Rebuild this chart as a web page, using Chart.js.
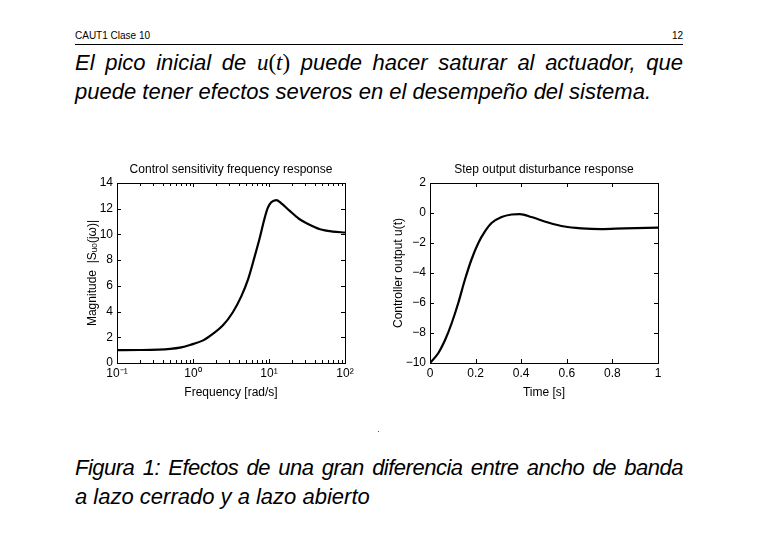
<!DOCTYPE html>
<html>
<head>
<meta charset="utf-8">
<script src="https://cdn.jsdelivr.net/npm/chart.js@4.4.1/dist/chart.umd.min.js"></script>
<style>
    body { margin: 0; background: #fff; width: 758px; height: 536px; position: relative; overflow: hidden; font-family: "Liberation Sans", Arial, sans-serif; color: #000; }
    .cab { position: absolute; top: 30px; left: 75px; width: 608px; font-size: 10px; border-bottom: 1px solid #000; height: 14px; }
    .cab span.der { position: absolute; right: 0; top: 0; }
    .linea { position: absolute; left: 75px; width: 608px; font-style: italic; font-size: 22px; line-height: 29px; white-space: nowrap; }
    .just { text-align: justify; text-align-last: justify; }
    .mat { font-family: "Liberation Serif", "Times New Roman", serif; font-style: normal; font-size: 23px; }
    .mat i { font-style: italic; }
    canvas { position: absolute; }
</style>
</head>
<body>
<div class="cab">CAUT1 Clase 10<span class="der">12</span></div>
<div class="linea just" style="top:48px">El pico inicial de <span class="mat"><i>u</i>(<i>t</i>)</span> puede hacer saturar al actuador, que</div>
<div class="linea" style="top:77px">puede tener efectos severos en el desempeño del sistema.</div>
<canvas id="graficoFrecuencia" style="left:85px;top:160px;width:285px;height:240px" width="285" height="240"></canvas>
<canvas id="graficoEscalon" style="left:391px;top:160px;width:279px;height:240px" width="279" height="240"></canvas>
<div style="position:absolute;left:378px;top:431px;width:1px;height:1px;background:#555"></div>
<div class="linea just" style="top:453px;letter-spacing:-0.5px">Figura 1: Efectos de una gran diferencia entre ancho de banda</div>
<div class="linea" style="top:482px">a lazo cerrado y a lazo abierto</div>
<script>
const frecuencias = [0.1, 0.2, 0.5, 0.7, 0.91, 1.36, 1.84, 2.48, 3.36, 4.33, 5.3, 6.47, 7.53, 8.75, 9.6, 10.7, 12.5, 14.4, 18.6, 25, 31, 47, 69, 100];
const magnitud = [1.0, 1.01, 1.1, 1.22, 1.4, 1.76, 2.28, 2.93, 3.97, 5.2, 6.5, 8.27, 9.7, 11.26, 12.05, 12.5, 12.67, 12.44, 11.85, 11.2, 10.88, 10.4, 10.22, 10.15];
const ticksFrecuencia = [0.1, 1, 10, 100];
const etiquetasFrecuencia = ["10\u207B\u00B9", "10\u2070", "10\u00B9", "10\u00B2"];

const tiempo = [0, 0.036, 0.066, 0.095, 0.124, 0.153, 0.182, 0.212, 0.241, 0.27, 0.314, 0.358, 0.394, 0.445, 0.518, 0.59, 0.664, 0.75, 0.854, 1];
const salidaControl = [-10, -9.35, -8.47, -7.35, -6.0, -4.45, -3.1, -2.0, -1.23, -0.67, -0.27, -0.1, -0.07, -0.27, -0.63, -0.9, -1.02, -1.07, -1.02, -0.98];

const fuente = { family: "'Liberation Sans', Arial, sans-serif", size: 12 };

// caja, titulo y marcas hacia adentro, estilo matlab
const cajaMatlab = {
    id: "cajaMatlab",
    afterDraw(chart, args, opciones) {
        const ctx = chart.ctx;
        const a = chart.chartArea;
        const ejeX = chart.scales.x;
        const ejeY = chart.scales.y;
        ctx.save();
        ctx.strokeStyle = "#000";
        ctx.lineWidth = 1;
        ctx.strokeRect(Math.round(a.left) + 0.5, Math.round(a.top) + 0.5, Math.round(a.right - a.left), Math.round(a.bottom - a.top));

        const marcaX = (valor, largo) => {
            const px = Math.round(ejeX.getPixelForValue(valor)) + 0.5;
            ctx.beginPath();
            ctx.moveTo(px, a.bottom); ctx.lineTo(px, a.bottom - largo);
            ctx.moveTo(px, a.top); ctx.lineTo(px, a.top + largo);
            ctx.stroke();
        };
        ejeX.ticks.forEach((t) => marcaX(t.value, 4));
        if (ejeX.type === "logarithmic") {
            [0.1, 1, 10].forEach((dec) => {
                for (let k = 2; k <= 9; k++) marcaX(dec * k, 3);
            });
        }
        ejeY.ticks.forEach((t) => {
            const py = Math.round(ejeY.getPixelForValue(t.value)) + 0.5;
            ctx.beginPath();
            ctx.moveTo(a.left, py); ctx.lineTo(a.left + 4, py);
            ctx.moveTo(a.right, py); ctx.lineTo(a.right - 4, py);
            ctx.stroke();
        });

        ctx.fillStyle = "#000";
        ctx.font = "12px 'Liberation Sans', Arial, sans-serif";
        ctx.textAlign = "center";
        ctx.textBaseline = "middle";
        ctx.fillText(opciones.titulo, (a.left + a.right) / 2, a.top - 13);
        ctx.restore();
    }
};

function opcionesBase(titulo, derecha) {
    return {
        responsive: false,
        animation: false,
        layout: { padding: { left: 0, right: derecha, top: 23, bottom: 0 } },
        plugins: {
            legend: { display: false },
            tooltip: { enabled: false },
            title: { display: false },
            cajaMatlab: { titulo: titulo }
        },
        elements: { point: { radius: 0 } }
    };
}

const opcFrecuencia = opcionesBase("Control sensitivity frequency response", 25);
opcFrecuencia.scales = {
    x: {
        type: "logarithmic",
        min: 0.1,
        max: 100,
        afterBuildTicks: (eje) => { eje.ticks = ticksFrecuencia.map((v) => ({ value: v })); },
        afterFit: (eje) => { eje.height = 37; },
        ticks: { color: "#000", font: fuente, padding: 3, maxRotation: 0, callback: (v) => etiquetasFrecuencia[ticksFrecuencia.indexOf(v)] },
        grid: { display: false, drawTicks: false },
        border: { display: false },
        title: { display: true, text: "Frequency [rad/s]", color: "#000", font: fuente, padding: 0 }
    },
    y: {
        min: 0,
        max: 14,
        afterFit: (eje) => { eje.width = 32; },
        ticks: { stepSize: 2, color: "#000", font: fuente, padding: 4 },
        grid: { display: false, drawTicks: false },
        border: { display: false },
        title: { display: true, text: "Magnitude  |S\u1D64\u2092(j\u03C9)|", color: "#000", font: fuente, padding: 0 }
    }
};

new Chart(document.getElementById("graficoFrecuencia"), {
    type: "line",
    data: {
        datasets: [{
            data: frecuencias.map((f, i) => ({ x: f, y: magnitud[i] })),
            borderColor: "#000",
            borderWidth: 2.2,
            cubicInterpolationMode: "monotone",
            fill: false
        }]
    },
    options: opcFrecuencia,
    plugins: [cajaMatlab]
});

const opcEscalon = opcionesBase("Step output disturbance response", 12);
opcEscalon.scales = {
    x: {
        type: "linear",
        min: 0,
        max: 1,
        afterFit: (eje) => { eje.height = 37; },
        ticks: { stepSize: 0.2, color: "#000", font: fuente, padding: 3, maxRotation: 0, callback: (v) => (Math.round(v * 10) / 10).toString() },
        grid: { display: false, drawTicks: false },
        border: { display: false },
        title: { display: true, text: "Time [s]", color: "#000", font: fuente, padding: 0 }
    },
    y: {
        min: -10,
        max: 2,
        afterFit: (eje) => { eje.width = 39; },
        ticks: { stepSize: 2, color: "#000", font: fuente, padding: 4, callback: (v) => (v < 0 ? "\u2212" + Math.abs(v) : v) },
        grid: { display: false, drawTicks: false },
        border: { display: false },
        title: { display: true, text: "Controller output u(t)", color: "#000", font: fuente, padding: 0 }
    }
};

new Chart(document.getElementById("graficoEscalon"), {
    type: "line",
    data: {
        datasets: [{
            data: tiempo.map((t, i) => ({ x: t, y: salidaControl[i] })),
            borderColor: "#000",
            borderWidth: 2.2,
            cubicInterpolationMode: "monotone",
            fill: false
        }]
    },
    options: opcEscalon,
    plugins: [cajaMatlab]
});
</script>
</body>
</html>
